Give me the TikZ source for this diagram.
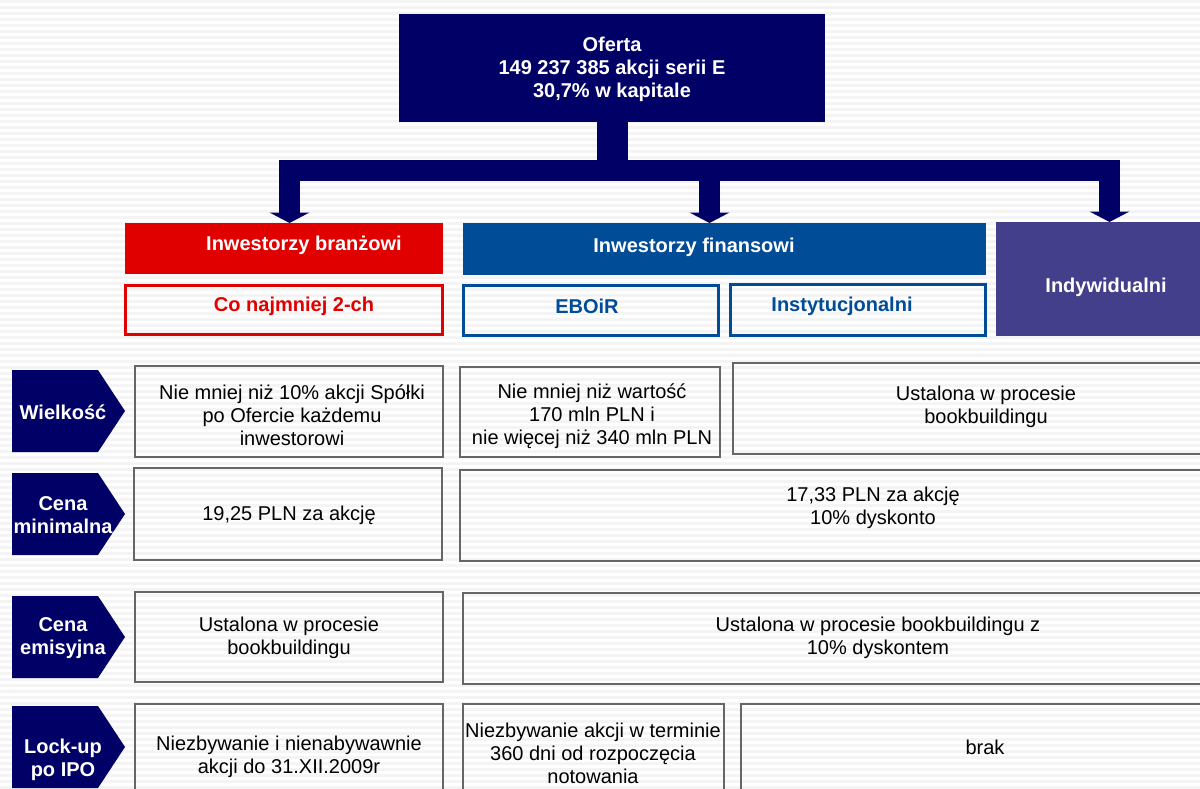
\documentclass[tikz,border=0pt]{standalone}
\usepackage{fontspec}
\setmainfont{Liberation Sans}
\definecolor{navy}{HTML}{000066}
\definecolor{redc}{HTML}{E10000}
\definecolor{bluec}{HTML}{004C97}
\definecolor{purplec}{HTML}{443F8A}
\definecolor{boxgray}{HTML}{666666}
\definecolor{stripe}{HTML}{F4F4F4}
\newcommand\mkbox[6]{\node[#2, minimum width={(#5-#3)*1pt}, minimum height={(#6-#4)*1pt}] (#1) at ({(#3+#5)/2},{(#4+#6)/2}) {};}
\newcommand\mkchev[3]{\fill[navy] (12,#2) -- (98,#2) -- (125,{(#2+#3)/2}) -- (98,#3) -- (12,#3) -- cycle;}
\tikzset{
  base/.style={inner sep=0pt, outer sep=0pt},
  navybox/.style={base, fill=navy},
  redbox/.style={base, fill=redc},
  bluebox/.style={base, fill=bluec},
  purplebox/.style={base, fill=purplec},
  redline/.style={base, draw=redc, line width=3pt},
  blueline/.style={base, draw=bluec, line width=3pt},
  gbox/.style={base, draw=boxgray, line width=1.4pt},
  txt/.style={base, align=center, yshift=-2pt, font=\fontsize{20}{23}\selectfont},
  btxt/.style={txt, font=\fontsize{20}{23}\selectfont\bfseries},
  wtxt/.style={btxt, text=white},
  bus/.style={draw=navy, line width=21pt},
  trunk/.style={draw=navy, line width=31pt},
  branch/.style={draw=navy, line width=21pt, shorten >=10pt},
  tip/.style={fill=navy}
}
\begin{document}
\begin{tikzpicture}[x=1pt,y=-1pt]
\useasboundingbox (0,0) rectangle (1200,789);
\clip (0,0) rectangle (1200,789);
\fill[white] (0,0) rectangle (1200,789);
\foreach \y in {0,6,...,786} \fill[stripe] (0,\y) rectangle (1200,\y+3);

% header boxes
\mkbox{top}{navybox}{399}{14}{825}{122}
\mkbox{branz}{redbox}{125}{223}{443}{274}
\mkbox{coout}{redline}{125.5}{285.5}{442.5}{334.5}
\mkbox{fin}{bluebox}{463}{223}{986}{275}
\mkbox{eboir}{blueline}{463.5}{285.5}{718.5}{335.5}
\mkbox{inst}{blueline}{730.5}{284.5}{985.5}{335.5}
\mkbox{ind}{purplebox}{996}{222}{1216}{336}

\node[wtxt] (ttop) at (612,67) {Oferta\\149 237 385 akcji serii E\\30,7\% w kapitale};
\node[wtxt] (tbranz) at (304,243) {Inwestorzy branżowi};
\node[btxt, text=redc] (tco) at (294,304) {Co najmniej 2-ch};
\node[wtxt] (tfin) at (694,245) {Inwestorzy finansowi};
\node[btxt, text=bluec] (teboir) at (587,304) {EBOiR};
\node[btxt, text=bluec] (tinst) at (842,304) {Instytucjonalni};
\node[wtxt] (tind) at (1106,285) {Indywidualni};

% connectors
\coordinate (busL) at (279,170.5);
\coordinate (busR) at (1120,170.5);
\coordinate (a1) at ([xshift=5.5pt]branz.north);
\coordinate (a2) at ([xshift=-15pt]fin.north);
\coordinate (a3) at ([xshift=3.5pt]ind.north);
\draw[trunk] (top.south) -- (top.south |- busL);
\draw[bus] (busL) -- (busR);
\foreach \a in {a1,a2,a3}{
  \draw[branch] (\a |- busL) -- (\a);
  \fill[tip] (\a) -- ++(-20,-10.5) -- ++(40,0) -- cycle;
}

% row labels (chevrons)
\mkchev{c1}{370}{452}
\mkchev{c2}{473}{555}
\mkchev{c3}{596}{678}
\mkchev{c4}{706}{788}
\node[wtxt] (l1) at (63,410) {Wielkość};
\node[wtxt] (l2) at (63,513) {Cena\\minimalna};
\node[wtxt] (l3) at (63,636) {Cena\\emisyjna};
\node[wtxt] (l4) at (63,758) {Lock-up\\po IPO};

% table boxes
\mkbox{r1a}{gbox}{135}{366}{443}{457}
\mkbox{r1b}{gbox}{460}{367}{720}{457}
\mkbox{r1c}{gbox}{733}{363}{1239}{454}
\mkbox{r2a}{gbox}{134}{468}{442}{560}
\mkbox{r2b}{gbox}{460}{470}{1286}{561}
\mkbox{r3a}{gbox}{135}{592}{443}{682}
\mkbox{r3b}{gbox}{463}{593}{1293}{684}
\mkbox{r4a}{gbox}{135}{704}{443}{795}
\mkbox{r4b}{gbox}{463}{704}{724}{795}
\mkbox{r4c}{gbox}{741}{704}{1229}{795}

\node[txt] (tr1a) at (292,413) {Nie mniej niż 10\% akcji Spółki\\po Ofercie każdemu\\inwestorowi};
\node[txt] (tr1b) at (592,414) {Nie mniej niż wartość\\170 mln PLN i\\nie więcej niż 340 mln PLN};
\node[txt] (tr1c) at (986,405) {Ustalona w procesie\\bookbuildingu};
\node[txt] (tr2a) at (289,513) {19,25 PLN za akcję};
\node[txt] (tr2b) at (873,506) {17,33 PLN za akcję\\10\% dyskonto};
\node[txt] (tr3a) at (289,636) {Ustalona w procesie\\bookbuildingu};
\node[txt] (tr3b) at (878,636) {Ustalona w procesie bookbuildingu z\\10\% dyskontem};
\node[txt] (tr4a) at (289,755) {Niezbywanie i nienabywawnie\\akcji do 31.XII.2009r};
\node[txt] (tr4b) at (593,751) {Niezbywanie akcji w terminie\\360 dni od rozpoczęcia\\notowania};
\node[txt] (tr4c) at (985,745) {brak};
\end{tikzpicture}
\end{document}
